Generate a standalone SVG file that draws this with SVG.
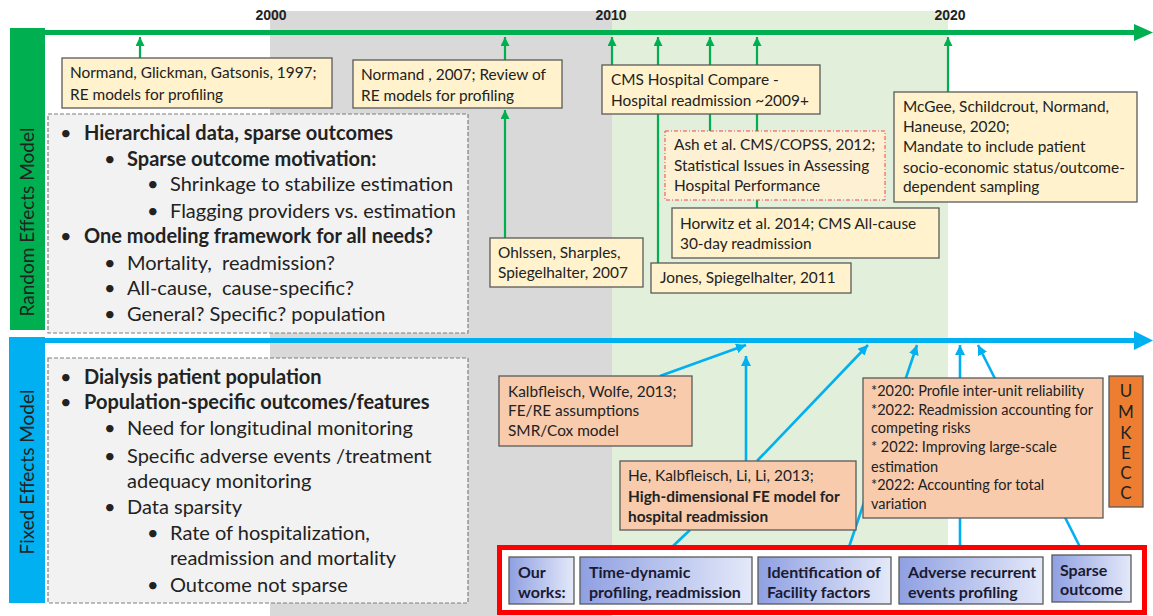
<svg xmlns="http://www.w3.org/2000/svg" width="1153" height="616" viewBox="0 0 1153 616">
<defs>
<style>
.t{font-family:Lato,"Open Sans","Liberation Sans",sans-serif;font-size:15.4px;fill:#222}
.big{font-size:20px}
.b{font-weight:bold}
.yb{fill:#fff2cc;stroke:#595959;stroke-width:1.3}
.ob{fill:#f8cbad;stroke:#595959;stroke-width:1.3}
.gl{stroke:#00b050;stroke-width:2.2;fill:none}
.bl{stroke:#00b0f0;stroke-width:2.6;fill:none}
.dash{fill:#f2f2f2;stroke:#7f7f7f;stroke-width:1.2;stroke-dasharray:4 2}
.wk{stroke:#595959;stroke-width:1.3}
.wt{font-family:Lato,"Open Sans","Liberation Sans",sans-serif;font-size:16px;font-weight:bold;fill:#1a1a33}
.yr{font-family:"Liberation Sans",Arial,sans-serif;font-size:14px;font-weight:bold;fill:#222;text-anchor:middle}
</style>
<marker id="ga" viewBox="0 0 10 10" refX="10" refY="5" markerUnits="userSpaceOnUse" markerWidth="9" markerHeight="9" orient="auto"><path d="M0,0L10,5L0,10z" fill="#00b050"/></marker>
<marker id="ba" viewBox="0 0 10 10" refX="10" refY="5" markerUnits="userSpaceOnUse" markerWidth="10" markerHeight="10" orient="auto"><path d="M0,0L10,5L0,10z" fill="#00b0f0"/></marker>
<linearGradient id="wg" x1="0" y1="0" x2="1" y2="0"><stop offset="0" stop-color="#8fa0e2"/><stop offset="1" stop-color="#e4e9f9"/></linearGradient>
</defs>
<rect width="1153" height="616" fill="#fff"/>
<g id="bands">
<rect x="270" y="11" width="342" height="605" fill="#d9d9d9"/>
<rect x="612" y="11" width="336" height="534" fill="#e2efda"/>
</g>
<g id="years">
<text class="yr" x="271" y="20">2000</text>
<text class="yr" x="611" y="20">2010</text>
<text class="yr" x="950" y="20">2020</text>
</g>
<g id="re-axis">
<rect x="10" y="28" width="35" height="302" fill="#00b050"/>
<rect x="10" y="30" width="1128" height="5" fill="#00b050"/>
<path d="M1134,24L1153,32.5L1134,41z" fill="#00b050"/>
<text class="t" transform="translate(34,222) rotate(-90)" text-anchor="middle" style="font-size:19px">Random Effects Model</text>
</g>
<g id="fe-axis">
<rect x="9" y="337" width="36" height="266" fill="#00b0f0"/>
<rect x="9" y="338" width="1129" height="5" fill="#00b0f0"/>
<path d="M1134,331L1153,340.5L1134,350z" fill="#00b0f0"/>
<text class="t" transform="translate(34,472) rotate(-90)" text-anchor="middle" style="font-size:19px">Fixed Effects Model</text>
</g>
<g id="connectors">
<line class="gl" x1="140" y1="58" x2="140" y2="37" marker-end="url(#ga)"/>
<line class="gl" x1="505" y1="60" x2="505" y2="37" marker-end="url(#ga)"/>
<line class="gl" x1="505" y1="238" x2="505" y2="110" marker-end="url(#ga)"/>
<line class="gl" x1="612" y1="66" x2="612" y2="37" marker-end="url(#ga)"/>
<line class="gl" x1="658" y1="263" x2="658" y2="37" marker-end="url(#ga)"/>
<line class="gl" x1="710" y1="131" x2="710" y2="37" marker-end="url(#ga)"/>
<line class="gl" x1="757" y1="208" x2="757" y2="37" marker-end="url(#ga)"/>
<line class="gl" x1="948" y1="92" x2="948" y2="37" marker-end="url(#ga)"/>
<line class="bl" x1="660" y1="376" x2="746" y2="345" marker-end="url(#ba)"/>
<line class="bl" x1="746" y1="461" x2="746" y2="356" marker-end="url(#ba)"/>
<line class="bl" x1="757" y1="461" x2="868" y2="345" marker-end="url(#ba)"/>
<line class="bl" x1="849" y1="547" x2="917" y2="345" marker-end="url(#ba)"/>
<line class="bl" x1="960" y1="547" x2="960" y2="345" marker-end="url(#ba)"/>
<line class="bl" x1="1080" y1="547" x2="978" y2="345" marker-end="url(#ba)"/>
<line class="bl" x1="672" y1="547" x2="690" y2="530"/>
</g>
<g id="re-list">
<rect class="dash" x="48" y="114" width="420" height="219"/>
<g class="t big">
<text x="60" y="140">•</text><text class="b" x="84" y="140">Hierarchical data, sparse outcomes</text>
<text x="104" y="166">•</text><text class="b" x="127" y="166">Sparse outcome motivation:</text>
<text x="147" y="191">•</text><text x="170" y="191">Shrinkage to stabilize estimation</text>
<text x="147" y="218">•</text><text x="170" y="218">Flagging providers vs. estimation</text>
<text x="60" y="243">•</text><text class="b" x="84" y="243">One modeling framework for all needs?</text>
<text x="104" y="270">•</text><text x="127" y="270" xml:space="preserve">Mortality,  readmission?</text>
<text x="104" y="295">•</text><text x="127" y="295" xml:space="preserve">All-cause,  cause-specific?</text>
<text x="104" y="321">•</text><text x="127" y="321">General? Specific? population</text>
</g>
</g>
<g id="fe-list">
<rect class="dash" x="48" y="358" width="420" height="245"/>
<g class="t big">
<text x="60" y="384">•</text><text class="b" x="84" y="384">Dialysis patient population</text>
<text x="60" y="409">•</text><text class="b" x="84" y="409">Population-specific outcomes/features</text>
<text x="104" y="435">•</text><text x="127" y="435">Need for longitudinal monitoring</text>
<text x="104" y="463">•</text><text x="127" y="463">Specific adverse events /treatment</text>
<text x="127" y="488">adequacy monitoring</text>
<text x="104" y="514">•</text><text x="127" y="514">Data sparsity</text>
<text x="147" y="540">•</text><text x="170" y="540">Rate of hospitalization,</text>
<text x="170" y="565">readmission and mortality</text>
<text x="147" y="592">•</text><text x="170" y="592">Outcome not sparse</text>
</g>
</g>
<g id="normand1997">
<rect class="yb" x="62" y="58" width="270" height="50"/>
<text class="t" x="70" y="78">Normand, Glickman, Gatsonis, 1997;</text>
<text class="t" x="70" y="100">RE models for profiling</text>
</g>
<g id="normand2007">
<rect class="yb" x="353" y="60" width="209" height="48"/>
<text class="t" x="361" y="80">Normand , 2007; Review of</text>
<text class="t" x="361" y="101">RE models for profiling</text>
</g>
<g id="cms">
<rect class="yb" x="602" y="65" width="218" height="49"/>
<text class="t" x="611" y="85">CMS Hospital Compare -</text>
<text class="t" x="611" y="106">Hospital readmission ~2009+</text>
</g>
<g id="ash">
<rect x="665" y="131" width="220" height="69" fill="#fdf0d3" stroke="#ff4040" stroke-width="1" stroke-dasharray="4 2 1 2"/>
<text class="t" x="674" y="150">Ash et al. CMS/COPSS, 2012;</text>
<text class="t" x="674" y="171">Statistical Issues in Assessing</text>
<text class="t" x="674" y="191">Hospital Performance</text>
</g>
<g id="horwitz">
<rect class="yb" x="672" y="208" width="267" height="50"/>
<text class="t" x="680" y="229">Horwitz et al. 2014; CMS All-cause</text>
<text class="t" x="680" y="249">30-day readmission</text>
</g>
<g id="jones">
<rect class="yb" x="651" y="263" width="200" height="30"/>
<text class="t" x="660" y="283">Jones, Spiegelhalter, 2011</text>
</g>
<g id="ohlssen">
<rect class="yb" x="490" y="238" width="153" height="49"/>
<text class="t" x="498" y="258">Ohlssen, Sharples,</text>
<text class="t" x="498" y="278">Spiegelhalter, 2007</text>
</g>
<g id="mcgee">
<rect class="yb" x="894" y="92" width="243" height="110"/>
<text class="t" x="903" y="112">McGee, Schildcrout, Normand,</text>
<text class="t" x="903" y="132">Haneuse, 2020;</text>
<text class="t" x="903" y="152">Mandate to include patient</text>
<text class="t" x="903" y="173">socio-economic status/outcome-</text>
<text class="t" x="903" y="192">dependent sampling</text>
</g>
<g id="kalbfleisch">
<rect class="ob" x="499" y="376" width="193" height="70"/>
<text class="t" x="508" y="397">Kalbfleisch, Wolfe, 2013;</text>
<text class="t" x="508" y="416">FE/RE assumptions</text>
<text class="t" x="508" y="436">SMR/Cox model</text>
</g>
<g id="he">
<rect class="ob" x="620" y="461" width="236" height="69"/>
<text class="t" x="628" y="481">He, Kalbfleisch, Li, Li, 2013;</text>
<text class="t b" x="628" y="502">High-dimensional FE model for</text>
<text class="t b" x="628" y="522">hospital readmission</text>
</g>
<g id="recent">
<rect class="ob" x="863" y="378" width="240" height="140"/>
<g class="t" style="font-size:14.5px">
<text x="871" y="396">*2020: Profile inter-unit reliability</text>
<text x="871" y="415">*2022: Readmission accounting for</text>
<text x="871" y="433">competing risks</text>
<text x="871" y="452" xml:space="preserve">* 2022: Improving large-scale</text>
<text x="871" y="472">estimation</text>
<text x="871" y="490">*2022: Accounting for total</text>
<text x="871" y="509">variation</text>
</g>
</g>
<g id="umkecc">
<rect x="1109" y="376" width="34" height="131" fill="#ed7d31" stroke="#595959" stroke-width="1.3"/>
<g class="t" text-anchor="middle" style="font-size:17px">
<text x="1126" y="397">U</text>
<text x="1126" y="418">M</text>
<text x="1126" y="439">K</text>
<text x="1126" y="459">E</text>
<text x="1126" y="479">C</text>
<text x="1126" y="499">C</text>
</g>
</g>
<g id="our-works">
<rect x="499.5" y="547.5" width="645" height="65" fill="#fff" stroke="#ff0000" stroke-width="5"/>
<g id="w-label"><rect class="wk" x="509" y="557" width="65" height="47" fill="url(#wg)"/><text class="wt" x="518" y="578">Our</text><text class="wt" x="518" y="598">works:</text></g>
<g id="w-time"><rect class="wk" x="580" y="557" width="172" height="47" fill="url(#wg)"/><text class="wt" x="589" y="578">Time-dynamic</text><text class="wt" x="589" y="598">profiling, readmission</text></g>
<g id="w-facility"><rect class="wk" x="758" y="557" width="133" height="47" fill="url(#wg)"/><text class="wt" x="767" y="578">Identification of</text><text class="wt" x="767" y="598">Facility factors</text></g>
<g id="w-adverse"><rect class="wk" x="899" y="557" width="144" height="47" fill="url(#wg)"/><text class="wt" x="908" y="578">Adverse recurrent</text><text class="wt" x="908" y="598">events profiling</text></g>
<g id="w-sparse"><rect class="wk" x="1052" y="555" width="79" height="47" fill="url(#wg)"/><text class="wt" x="1060" y="576">Sparse</text><text class="wt" x="1060" y="595">outcome</text></g>
</g>
</svg>
